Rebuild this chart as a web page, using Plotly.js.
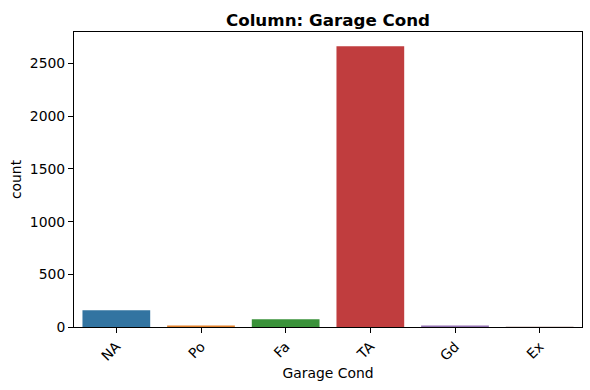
<!DOCTYPE html>
<html><head><meta charset="utf-8">
<script src="https://cdn.plot.ly/plotly-3.0.1.min.js"></script>
<style>html,body{margin:0;padding:0;background:#fff}#c{width:590px;height:390px}</style>
</head><body><div id="c"></div>
<script>
const categories = ["NA", "Po", "Fa", "TA", "Gd", "Ex"];
const counts = [159, 14, 74, 2665, 15, 3];
const colors = ["#3274a1", "#e1812c", "#3a923a", "#c03d3e", "#9372b2", "#845b53"];
const yTicks = [0, 500, 1000, 1500, 2000, 2500];

const font = {family: "DejaVu Sans", size: 13.9, color: "#000"};
Plotly.newPlot("c", [{
  type: "bar", x: categories, y: counts,
  marker: {color: colors, line: {width: 0}},
  width: 0.8, hoverinfo: "none"
}], {
  width: 590, height: 390,
  margin: {l: 74, r: 8, t: 32, b: 63, pad: 0},
  paper_bgcolor: "#fff", plot_bgcolor: "#fff",
  font: font,
  showlegend: false,
  title: {text: "<b>Column: Garage Cond</b>", font: {family: "DejaVu Sans", size: 16.7, color: "#000"},
          x: 0.5, xref: "paper", y: 1, yref: "paper", yanchor: "bottom", pad: {b: 6}},
  xaxis: {
    type: "category", range: [-0.5, 5.5], tickangle: -45,
    showline: true, linecolor: "#000", linewidth: 1, mirror: true,
    ticks: "outside", ticklen: 5, tickcolor: "#000", tickwidth: 1,
    showgrid: false, zeroline: false, tickfont: font,
    title: {text: "Garage Cond", font: font, standoff: 5}
  },
  yaxis: {
    range: [0, 2800], tickvals: yTicks, ticktext: yTicks.map(String),
    showline: true, linecolor: "#000", linewidth: 1, mirror: true,
    ticks: "outside", ticklen: 5, tickcolor: "#000", tickwidth: 1,
    showgrid: false, zeroline: false, tickfont: font,
    title: {text: "count", font: font, standoff: 4}
  }
}, {displayModeBar: false, staticPlot: true});
</script></body></html>
